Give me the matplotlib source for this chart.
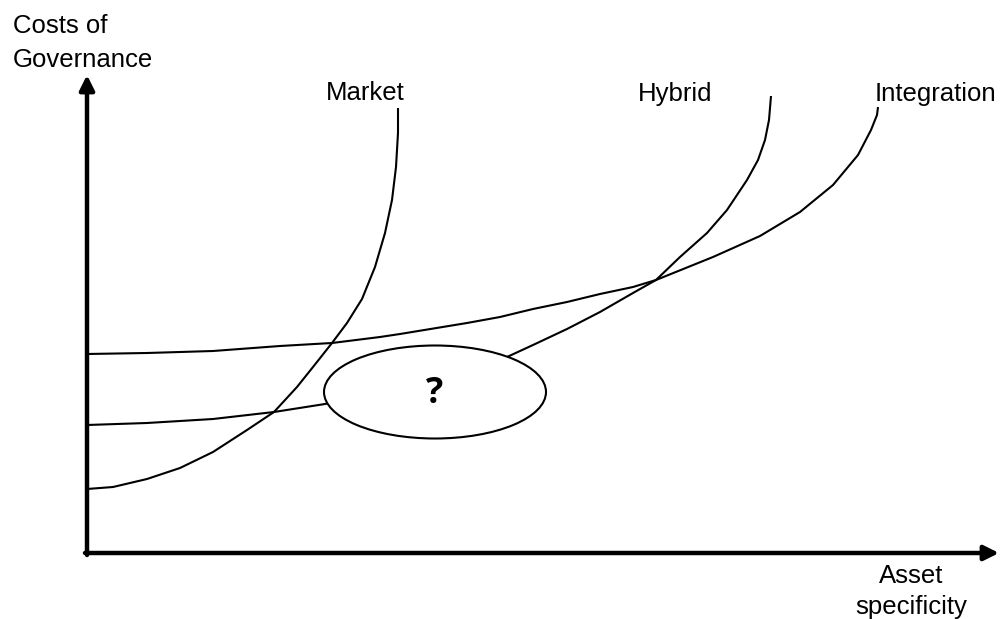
"""
ガバナンス費用と資産特殊性の関係図（Market / Hybrid / Integration）
"""

import matplotlib
matplotlib.use('Agg')
import matplotlib.pyplot as plt
from matplotlib.patches import Ellipse

plt.rcParams['font.family'] = ['Liberation Sans', 'DejaVu Sans']

# 曲線データ（資産特殊性, ガバナンス費用）— 図から読み取った値
MARKET_X = [0, 26, 60, 93, 126, 160, 187, 210, 226, 245, 260, 275, 288, 298, 305, 309, 311, 311]
MARKET_Y = [64, 66, 74, 85, 101, 123, 141, 166, 186, 210, 230, 254, 286, 320, 353, 386, 420, 445]

HYBRID_X = [0, 60, 126, 187, 238, 420, 446, 480, 513, 546, 569, 593, 620, 640, 660, 671, 678, 682, 684]
HYBRID_Y = [128, 130, 134, 141, 149, 196, 208, 224, 241, 260, 273, 296, 320, 343, 373, 393, 413, 433, 457]

INTEGRATION_X = [0, 60, 126, 193, 245, 293, 313, 380, 413, 446, 480, 513, 546, 569,
                 626, 673, 713, 746, 771, 784, 790, 791]
INTEGRATION_Y = [199, 200, 202, 207, 210, 216, 219, 230, 236, 244, 251, 259, 266, 273,
                 296, 317, 341, 368, 398, 423, 438, 446]

CURVE_LABELS = ['Market', 'Hybrid', 'Integration']
LABEL_X = [278, 588, 848]
LABEL_Y = [453, 452, 452]

# 「?」の楕円
ELLIPSE_CENTER = (348, 161)
ELLIPSE_WIDTH = 222
ELLIPSE_HEIGHT = 93

X_MAX = 912
Y_MAX = 478


def main() -> None:
    fig = plt.figure(figsize=(10.02, 6.19), dpi=100)
    ax = fig.add_axes([0, 0, 1, 1])
    ax.set_xlim(-87, 915)
    ax.set_ylim(-66, 553)
    ax.axis('off')

    # 軸（矢印）
    arrow_kw = dict(arrowstyle='-|>', lw=3.2, color='black',
                    mutation_scale=22, shrinkA=0, shrinkB=0)
    ax.annotate('', xy=(0, Y_MAX), xytext=(0, -2), arrowprops=arrow_kw)
    ax.annotate('', xy=(X_MAX, 0), xytext=(-2, 0), arrowprops=arrow_kw)

    # 曲線
    for xs, ys in [(MARKET_X, MARKET_Y), (HYBRID_X, HYBRID_Y),
                   (INTEGRATION_X, INTEGRATION_Y)]:
        ax.plot(xs, ys, color='black', lw=1.5, solid_capstyle='butt',
                solid_joinstyle='round', zorder=2)

    # 楕円（Hybrid曲線の一部を隠す）
    ell = Ellipse(ELLIPSE_CENTER, ELLIPSE_WIDTH, ELLIPSE_HEIGHT,
                  facecolor='white', edgecolor='black', lw=1.5, zorder=3)
    ax.add_patch(ell)
    ax.text(ELLIPSE_CENTER[0], ELLIPSE_CENTER[1] - 2, '?',
            family=['Open Sans', 'DejaVu Sans'], fontweight='bold',
            fontsize=26, ha='center', va='center', zorder=4)

    # ラベル
    for label, lx, ly in zip(CURVE_LABELS, LABEL_X, LABEL_Y):
        ax.text(lx, ly, label, fontsize=18.5, ha='center', va='baseline')

    ax.text(-74, 520, 'Costs of', fontsize=18.5, ha='left', va='baseline')
    ax.text(-74, 486, 'Governance', fontsize=18.5, ha='left', va='baseline')
    ax.text(824, -30, 'Asset', fontsize=18.5, ha='center', va='baseline')
    ax.text(824, -61, 'specificity', fontsize=18.5, ha='center', va='baseline')

    fig.savefig('out.png', dpi=100)
    plt.close(fig)


if __name__ == '__main__':
    main()
